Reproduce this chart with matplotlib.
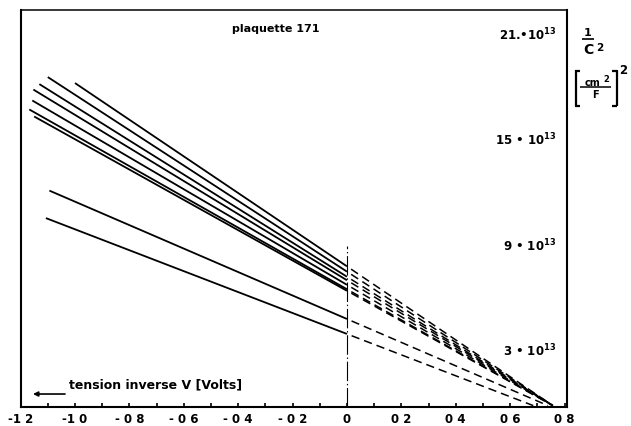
import matplotlib
matplotlib.use("Agg")
import matplotlib.pyplot as plt
from matplotlib.lines import Line2D
from matplotlib.ticker import FixedLocator

plt.rcParams['font.family'] = ['DejaVu Sans']
plt.rcParams['font.weight'] = 'bold'
plt.rcParams['mathtext.fontset'] = 'custom'
plt.rcParams['mathtext.rm'] = 'DejaVu Sans:bold'
plt.rcParams['mathtext.bf'] = 'DejaVu Sans:bold'
plt.rcParams['mathtext.it'] = 'DejaVu Sans:bold'
plt.rcParams['mathtext.sf'] = 'DejaVu Sans:bold'
plt.rcParams['mathtext.default'] = 'bf'
plt.rcParams['lines.scale_dashes'] = False

# ---- data (V in volts, 1/C^2 in units of 1e13 (cm^2/F)^2) ----
v_start = [-1.100, -1.000, -1.131, -1.153, -1.157, -1.168, -1.150, -1.094, -1.107]
y_start = [18.44, 18.10, 18.04, 17.73, 17.11, 16.60, 16.20, 11.99, 10.43]
y_at_zero = [7.39, 7.69, 7.10, 6.90, 6.64, 6.39, 6.30, 4.70, 3.85]
v_end = [0.757, 0.757, 0.757, 0.757, 0.757, 0.757, 0.757, 0.739, 0.685]
y_end = [-0.22, -0.22, -0.22, -0.22, -0.22, -0.22, -0.22, -0.22, -0.22]

x_tick_values = [-1.2, -1.0, -0.8, -0.6, -0.4, -0.2, 0.0, 0.2, 0.4, 0.6, 0.8]
x_tick_labels = ["-1 2", "-1 0", "- 0 8", "- 0 6", "- 0 4", "- 0 2", "0", "0 2", "0 4", "0 6", "0 8"]
x_minor_values = [-1.1, -0.9, -0.7, -0.5, -0.3, -0.1, 0.1, 0.3, 0.5, 0.7]
y_tick_values = [3, 9, 15, 21]
y_tick_labels = ["3 \u2022 10$^{13}$", "9 \u2022 10$^{13}$", "15 \u2022 10$^{13}$", "21.\u202210$^{13}$"]
zero_line_top = 8.85

W, H = 631, 427
fig = plt.figure(figsize=(W / 100, H / 100), dpi=100)
ax = fig.add_axes([20.6 / W, 19 / H, 546.1 / W, 397 / H])
ax.set_xlim(-1.2, 0.808)
ax.set_ylim(-0.3, 22.25)

for i in range(len(v_start)):
    ax.plot([v_start[i], 0.0], [y_start[i], y_at_zero[i]], color='black', lw=1.3,
            solid_capstyle='butt')
    ax.plot([0.0, v_end[i]], [y_at_zero[i], y_end[i]], color='black', lw=1.1,
            linestyle=(6.0, (6.0, 3.6)))

ax.plot([0.0, 0.0], [-0.3, zero_line_top], color='black', lw=0.8,
        linestyle=(0, (14, 2.0, 1.0, 2.0)))

for s in ax.spines.values():
    s.set_linewidth(1.5)
ax.spines['top'].set_linewidth(1.1)

ax.xaxis.set_major_locator(FixedLocator(x_tick_values))
ax.set_xticklabels(x_tick_labels)
ax.xaxis.set_minor_locator(FixedLocator(x_minor_values))
ax.tick_params(axis='x', which='both', direction='in', length=3, width=1.2,
               pad=3.5, labelsize=8.5)

ax.yaxis.tick_right()
ax.set_yticks(y_tick_values)
ax.set_yticklabels(y_tick_labels)
ax.tick_params(axis='y', which='both', length=0, pad=-7.5, labelsize=8.5)
for lab in ax.get_yticklabels():
    lab.set_horizontalalignment('right')

ax.text(0.468, 0.955, "plaquette 171", transform=ax.transAxes, ha='center', va='center',
        fontsize=8, fontweight='bold')
ax.text(0.0886, 0.058, "tension inverse V [Volts]", transform=ax.transAxes,
        ha='left', va='center', fontsize=9, fontweight='bold')
ax.annotate("", xy=(0.0227, 0.0327), xytext=(0.0813, 0.0327), xycoords='axes fraction',
            arrowprops=dict(arrowstyle='-|>', color='black', lw=1.2,
                            mutation_scale=7, shrinkA=0, shrinkB=0))


# ---- unit annotation at the right of the frame (pixel positions -> figure fraction) ----
def fx(px):
    return px / W


def fy(py):
    return 1 - py / H


def pline(x0, y0, x1, y1, lw=1.2):
    fig.add_artist(Line2D([fx(x0), fx(x1)], [fy(y0), fy(y1)], transform=fig.transFigure,
                          color='black', lw=lw, solid_capstyle='butt'))


fig.text(fx(588), fy(33.5), "1", ha='center', va='center', fontsize=8, fontweight='bold')
pline(582, 39.5, 594, 39.5, 1.2)
fig.text(fx(588.5), fy(50.5), "C", ha='center', va='center', fontsize=10, fontweight='bold')
fig.text(fx(599.5), fy(48), "2", ha='center', va='center', fontsize=7.5, fontweight='bold')

# brackets
pline(575.7, 71, 575.7, 107.3, 1.6)
pline(575.0, 71.5, 580, 71.5, 1.6)
pline(575.0, 106.8, 580, 106.8, 1.6)
pline(616.7, 71, 616.7, 107.3, 1.6)
pline(612.4, 71.5, 617.4, 71.5, 1.6)
pline(612.4, 106.8, 617.4, 106.8, 1.6)
fig.text(fx(592.5), fy(82.5), "cm", ha='center', va='center', fontsize=7, fontweight='bold')
fig.text(fx(606), fy(79), "2", ha='center', va='center', fontsize=6, fontweight='bold')
pline(580, 87.5, 611, 87.5, 1.1)
fig.text(fx(595.5), fy(95.5), "F", ha='center', va='center', fontsize=7, fontweight='bold')
fig.text(fx(623.5), fy(70.5), "2", ha='center', va='center', fontsize=8.5, fontweight='bold')

fig.savefig("out.png", dpi=100)
